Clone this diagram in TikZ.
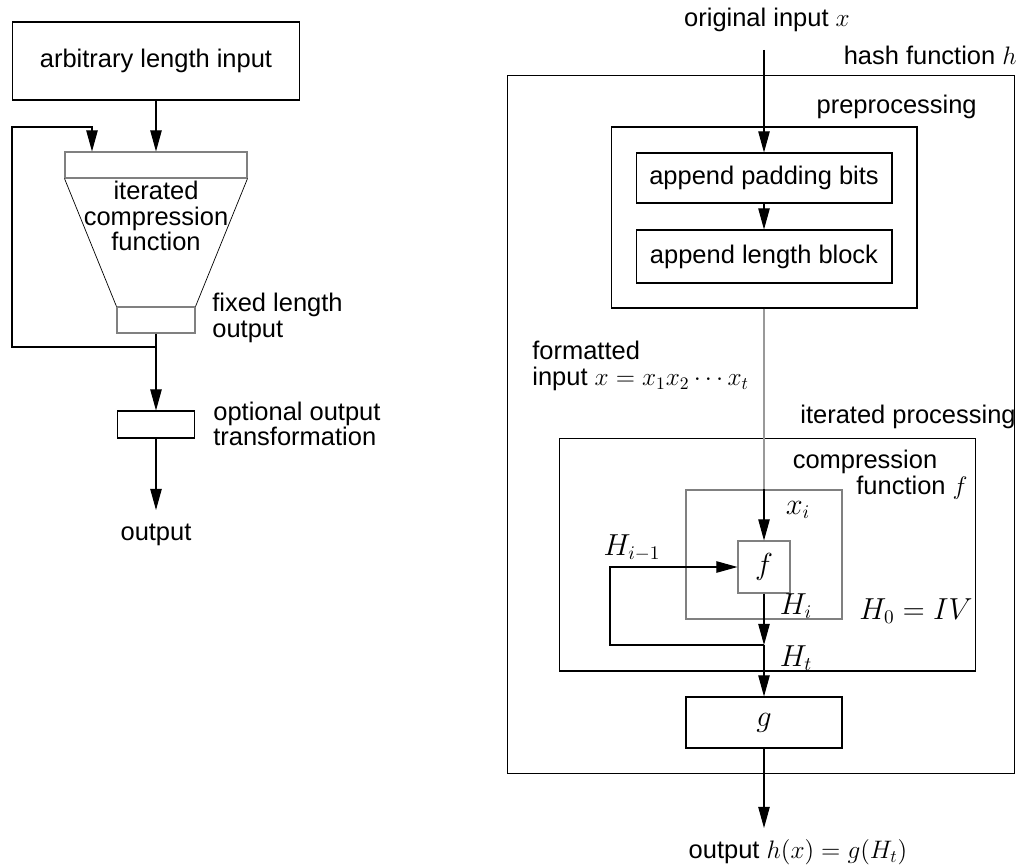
\documentclass[tikz,border=0pt]{standalone}
\usepackage{fontspec}
\setmainfont{Liberation Sans}
\usetikzlibrary{arrows.meta}
\begin{document}
\begin{tikzpicture}[x=0.02cm, y=-0.02cm, font=\fontsize{14.5}{14.5}\selectfont,
	box/.style={draw, line width=0.6pt, inner sep=0pt},
	greybox/.style={box, draw=black!50},
	lbl/.style={inner sep=0pt, align=left},
	mlbl/.style={inner sep=0pt, font=\fontsize{16.2}{16}\selectfont},
	wire/.style={line width=0.6pt},
	arr/.style={line width=0.6pt, -{Triangle[length=12pt,width=6.5pt]}}]
\useasboundingbox (0,0) rectangle (1034,865);

\node[box, minimum width=5.74cm, minimum height=1.56cm] (inbox) at (156,61) {arbitrary length input};
\node[greybox, minimum width=3.64cm, minimum height=0.52cm] (funtop) at (156,165) {};
\node[greybox, minimum width=1.56cm, minimum height=0.52cm] (funbot) at (156,320) {};
\node[lbl, align=center] (funtext) at (156,216) {iterated\\compression\\function};
\node[lbl, anchor=west] (fixlbl) at (212,318) {fixed length\\output};
\node[box, minimum width=1.54cm, minimum height=0.54cm] (optbox) at (156,424.5) {};
\node[lbl, anchor=west] (optlbl) at (213,424) {optional output\\transformation};
\node[lbl, anchor=north] (outlbl) at (156,524) {output};
\coordinate (fbjoin) at (156,347);
\coordinate (fbleft) at (12,347);
\coordinate (fbtop) at (92,127);
\coordinate (optend) at (156,510);

\draw[arr] (inbox) -- (funtop.north);
\draw[line width=0.4pt] (funtop.south west) -- (funbot.north west);
\draw[line width=0.4pt] (funtop.south east) -- (funbot.north east);
\draw[wire] (funbot) -- (fbjoin);
\draw[arr] (fbjoin) -- (fbleft) |- (fbtop) -- (fbtop |- funtop.north);
\draw[arr] (fbjoin) -- (optbox);
\draw[arr] (optbox) -- (optend);

\node[box, minimum width=10.16cm, minimum height=13.98cm] (hash) at (761,424.5) {};
\node[lbl] (orig) at (767,20) {original input $x$};
\node[lbl, anchor=east] (hashlbl) at (1017,55) {hash function $h$};
\node[lbl, anchor=east] (prelbl) at (977,107) {preprocessing};
\node[box, minimum width=6.12cm, minimum height=3.62cm] (pre) at (764,217.5) {};
\node[box, minimum width=5.12cm, minimum height=1cm] (padbox) at (764,178) {append padding bits};
\node[box, minimum width=5.12cm, minimum height=1.06cm] (lenbox) at (764,256.5) {append length block};
\node[lbl, anchor=west] (fmtlbl) at (532,366) {formatted\\input $x=x_1x_2\cdots x_t$};
\node[lbl, anchor=east] (iterlbl) at (1016,417) {iterated processing};
\node[box, minimum width=8.34cm, minimum height=4.66cm] (iter) at (767.5,554.5) {};
\node[lbl] (complbl) at (865,462) {compression};
\node[lbl] (funclbl) at (912,488) {function $f$};
\node[greybox, minimum width=3.12cm, minimum height=2.58cm] (comp) at (764,554.5) {};
\node[greybox, mlbl, minimum size=1.04cm] (fbox) at (764,567) {$f$};
\node[mlbl] (xi) at (798,510) {$x_i$};
\node[mlbl] (him) at (632,548) {$H_{i-1}$};
\node[mlbl] (hi) at (796,606) {$H_i$};
\node[mlbl] (hzero) at (916,611) {$H_0=IV$};
\node[mlbl] (ht) at (796,658) {$H_t$};
\node[box, mlbl, minimum width=3.12cm, minimum height=1.02cm] (gbox) at (764,722.5) {$g$};
\node[lbl] (outh) at (798,852) {output $h(x)=g(H_t)$};
\coordinate (instart) at (764,50);
\coordinate (join) at (764,645);
\coordinate (loopl) at (610,645);
\coordinate (outend) at (764,828);

\draw[arr] (instart) -- (padbox);
\draw[arr] (padbox) -- (lenbox);
\draw[wire, black!40] (pre) -- (comp);
\draw[arr] (comp.north) -- (fbox);
\draw[arr] (fbox) -- (join);
\draw[arr] (join) -- (gbox);
\draw[arr] (join) -- (loopl) |- (fbox);
\draw[arr] (gbox) -- (outend);
\end{tikzpicture}
\end{document}
